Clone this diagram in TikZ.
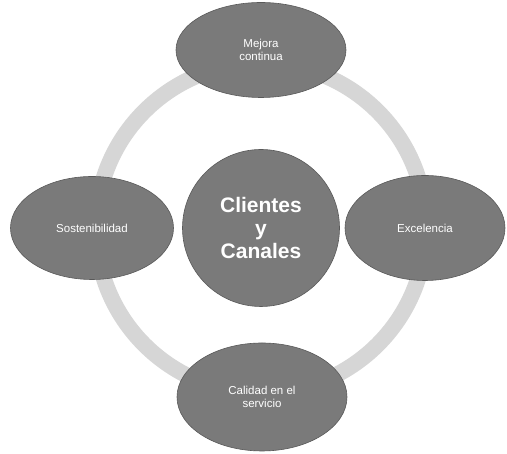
\documentclass[tikz,border=0pt]{standalone}
\usepackage{fontspec}
\setmainfont{Liberation Sans}
\usetikzlibrary{shapes.geometric}
\begin{document}
\begin{tikzpicture}[x=1pt,y=1pt,
  sat/.style={ellipse, fill=black!52, draw=black!65, line width=0.6pt, text=white, inner sep=0pt, align=center, font=\fontsize{11.5}{12.5}\selectfont},
  hub/.style={circle, fill=black!52, draw=black!65, line width=0.6pt, text=white, inner sep=0pt, align=center, font=\fontsize{21}{23}\selectfont\bfseries},
  ring/.style={draw=black!16, line width=16pt}]
\useasboundingbox (0,0) rectangle (507,454);
\coordinate (c) at (261,226);
\draw[ring] (c) circle[radius=165];
\node[hub, minimum size=157] (hub) at (c) {Clientes\\y\\Canales};
\node[sat, minimum width=170, minimum height=95] (top) at (261,404) {Mejora\\continua};
\node[sat, minimum width=163, minimum height=103] (left) at (92,226) {Sostenibilidad};
\node[sat, minimum width=160, minimum height=105] (right) at (425,226) {Excelencia};
\node[sat, minimum width=170, minimum height=108] (bottom) at (262,57) {Calidad en el\\servicio};
\end{tikzpicture}
\end{document}
